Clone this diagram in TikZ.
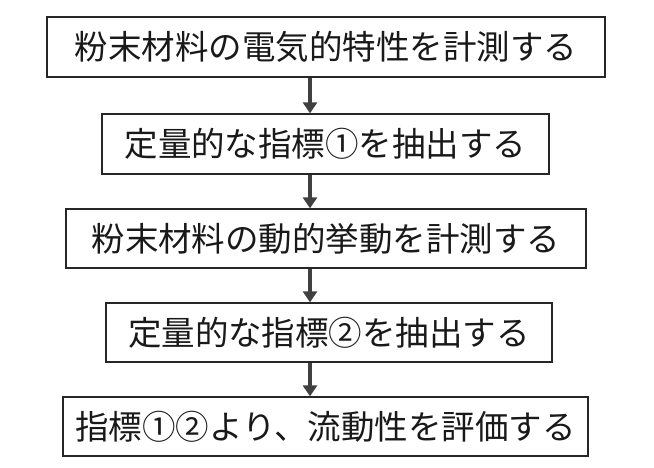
\documentclass[tikz,border=0pt]{standalone}
\usepackage{fontspec}
\setmainfont{Noto Sans CJK JP}
\usetikzlibrary{arrows.meta}
\begin{document}
\begin{tikzpicture}[x=1pt,y=-1pt,
  box/.style={draw=black!85,line width=1.3pt,inner sep=0pt,font=\fontsize{33.5}{34}\selectfont,text=black!90},
  arr/.style={draw=black!75,line width=3.5pt,-{Triangle[length=11pt,width=14pt]}}]
\useasboundingbox (0,0) rectangle (654,468);
\node[box,minimum width=558pt,minimum height=60pt] (a) at (326,47) {粉末材料の電気的特性を計測する};
\node[box,minimum width=447pt,minimum height=60pt] (b) at (325.5,144) {定量的な指標①を抽出する};
\node[box,minimum width=520pt,minimum height=59pt] (c) at (326,238.5) {粉末材料の動的挙動を計測する};
\node[box,minimum width=446pt,minimum height=59pt] (d) at (329,332.5) {定量的な指標②を抽出する};
\node[box,minimum width=525pt,minimum height=59pt] (e) at (325.5,426.5) {指標①②より、流動性を評価する};
\draw[arr] (a.south -| 310,0) -- (b.north -| 310,0);
\draw[arr] (b.south -| 310,0) -- (c.north -| 310,0);
\draw[arr] (c.south -| 310,0) -- (d.north -| 310,0);
\draw[arr] (d.south -| 310,0) -- (e.north -| 310,0);
\end{tikzpicture}
\end{document}
